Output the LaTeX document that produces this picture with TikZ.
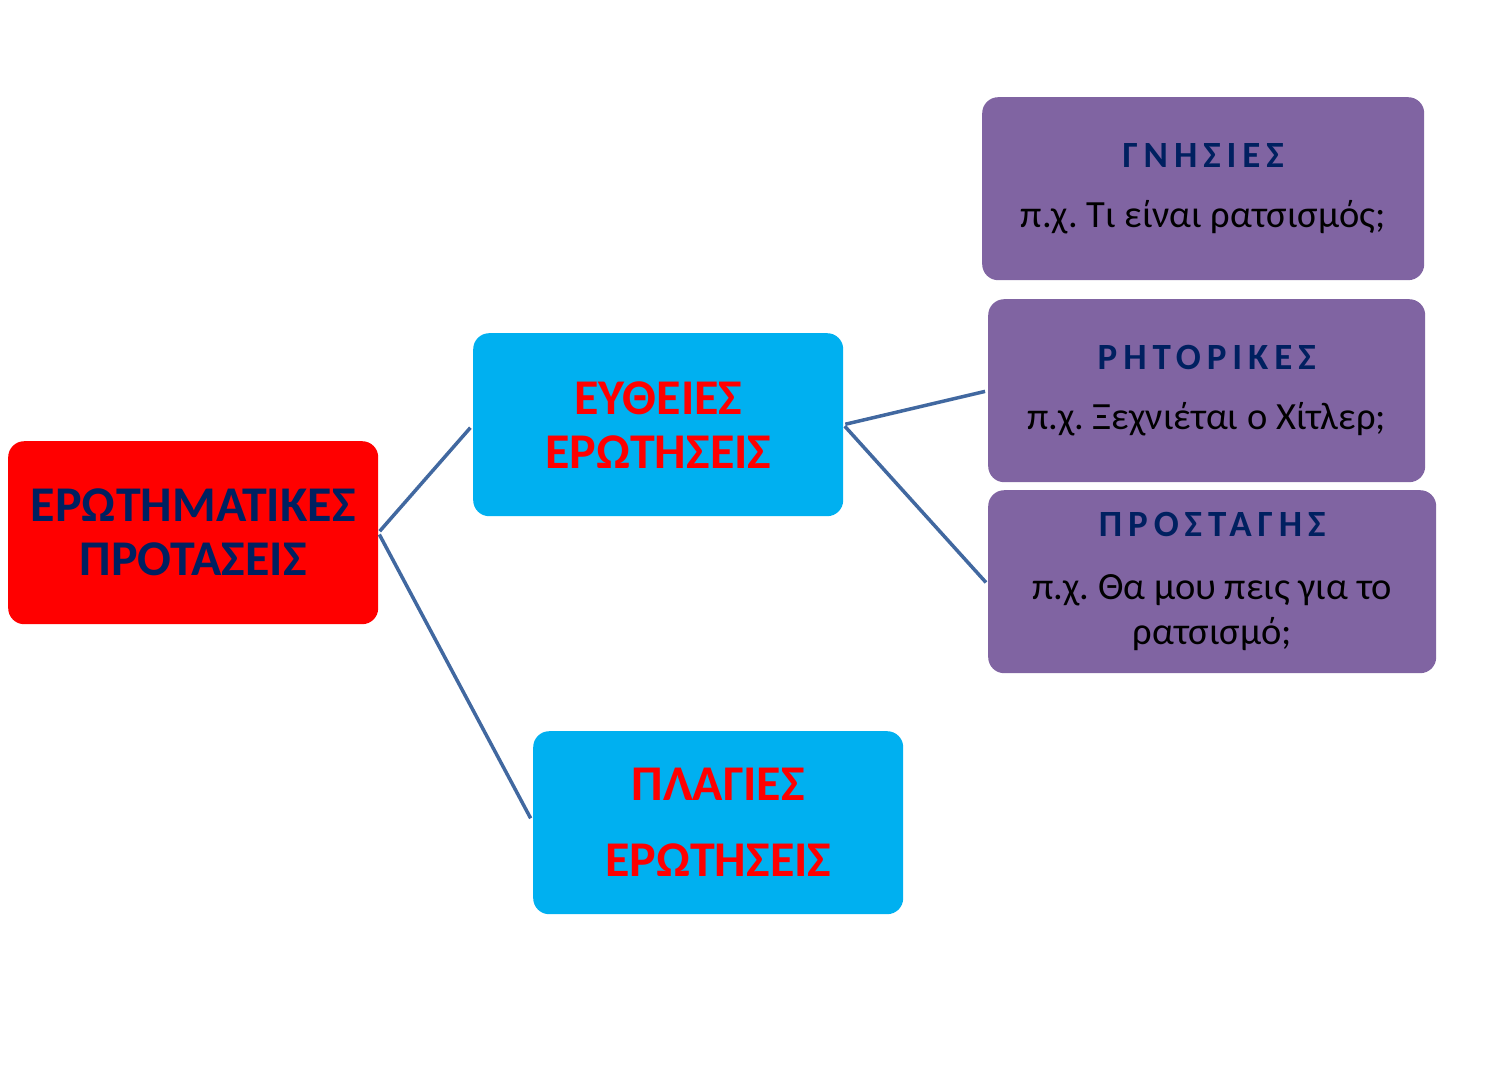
\documentclass[tikz,border=0pt]{standalone}
\usepackage{fontspec}
\setmainfont{Carlito}
\definecolor{boxred}{RGB}{255,0,0}
\definecolor{boxblue}{RGB}{0,176,240}
\definecolor{boxpurple}{RGB}{128,100,162}
\definecolor{navy}{RGB}{0,32,96}
\definecolor{linkblue}{RGB}{65,104,160}
\newcommand{\purpletitle}[1]{{\bfseries\color{navy}\addfontfeatures{LetterSpace=16}\fontsize{37}{45}\selectfont #1}}
\frenchspacing
\begin{document}
\begin{tikzpicture}[x=1pt,y=-1pt,
  basebox/.style={rectangle,rounded corners=16pt,inner sep=0pt,align=center,anchor=north west},
  redbox/.style={basebox,fill=boxred,text=navy,font=\frenchspacing\bfseries\fontsize{50}{54}\selectfont},
  bluebox/.style={basebox,fill=boxblue,text=boxred,font=\frenchspacing\bfseries\fontsize{50}{54}\selectfont},
  purplebox/.style={basebox,fill=boxpurple,text=black,font=\frenchspacing\fontsize{38.5}{45}\selectfont},
  link/.style={draw=linkblue,line width=3.5pt}]
\useasboundingbox (0,0) rectangle (1507,1065);
\node[redbox,minimum width=370pt,minimum height=183pt] (root) at (8,441) {ΕΡΩΤΗΜΑΤΙΚΕΣ\\ΠΡΟΤΑΣΕΙΣ};
\node[bluebox,minimum width=370pt,minimum height=183pt] (direct) at (473,333) {ΕΥΘΕΙΕΣ\\ΕΡΩΤΗΣΕΙΣ};
\node[bluebox,minimum width=370pt,minimum height=183pt] (indirect) at (533,731) {ΠΛΑΓΙΕΣ\\[22pt]ΕΡΩΤΗΣΕΙΣ};
\node[purplebox,minimum width=442pt,minimum height=183pt] (genuine) at (982,97) {\purpletitle{ΓΝΗΣΙΕΣ}\\[15pt]π.χ. Τι είναι ρατσισμός;};
\node[purplebox,minimum width=437pt,minimum height=183pt] (rhetoric) at (988,299) {\purpletitle{ΡΗΤΟΡΙΚΕΣ}\\[15pt]π.χ. Ξεχνιέται ο Χίτλερ;};
\node[purplebox,minimum width=448pt,minimum height=183pt] (command) at (988,490) {\purpletitle{ΠΡΟΣΤΑΓΗΣ}\\[18pt]π.χ. Θα μου πεις για το\\ρατσισμό;};
\draw[link,shorten <=2pt,shorten >=4pt] (root.east) -- (direct.west);
\draw[link,shorten <=2pt,shorten >=5pt] (root.east) -- (indirect.west);
\draw[link,shorten <=2pt,shorten >=3pt] (direct.east) -- (rhetoric.west);
\draw[link,shorten <=2pt,shorten >=3pt] (direct.east) -- ([yshift=-3pt]command.west);
\end{tikzpicture}
\end{document}
